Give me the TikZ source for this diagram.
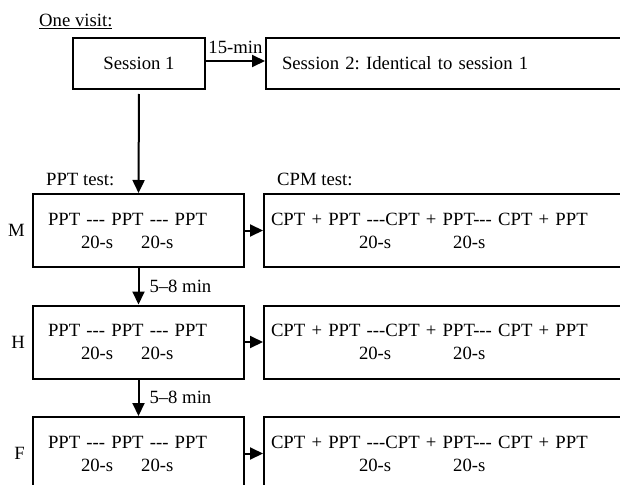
\documentclass[tikz,border=0pt]{standalone}
\usepackage{fontspec}
\setmainfont{Liberation Serif}[Ligatures=TeXOff]
\frenchspacing
\usetikzlibrary{arrows.meta}
\tikzset{
  every node/.style={font=\fontsize{18.7}{23}\selectfont},
  boxnode/.style={draw, line width=2pt, rectangle, anchor=north west, minimum height=73pt, align=left, inner ysep=0pt},
  lbox/.style={boxnode, text width=181pt, inner xsep=15pt},
  rbox/.style={boxnode, text width=380pt, inner xsep=7pt},
  conn/.style={line width=2pt, -{Triangle[length=13pt,width=12pt]}},
  rowlab/.style={anchor=east, inner sep=0pt},
  lbl/.style={inner sep=0pt}
}
\begin{document}
\begin{tikzpicture}[x=1pt,y=-1pt]
\useasboundingbox (0,0) rectangle (620,484);
\node[lbl, anchor=base west] (visit) at (39,27) {\underline{One visit:}};
\node[draw, line width=2pt, anchor=north west, minimum width=132pt, minimum height=51pt] (s1) at (72,37) {Session 1};
\node[draw, line width=2pt, anchor=north west, minimum height=51pt, text width=380pt, inner xsep=16pt, align=left] (s2) at (265,37) {Session 2: Identical to session 1};
\draw[conn] (s1.east |- 0,61) -- (s2.west |- 0,61) node[lbl, midway, anchor=base, yshift=7pt] (fifteen) {15-min};
\node[lbl, anchor=base west] (ppttest) at (46,185) {PPT test:};
\node[lbl, anchor=base west] (cpmtest) at (277,185) {CPM test:};
% rows
\foreach \nm/\lab/\top in {M/M/193, H/H/304.5, F/F/416}{
  \node[lbox, minimum width=211pt] (p\nm) at (32,\top) {PPT --- PPT --- PPT\\\hspace*{33pt}20-s\hspace{28pt}20-s};
  \node[rbox] (c\nm) at (263,\top) {CPT + PPT ---CPT + PPT--- CPT + PPT\\\hspace*{88pt}20-s\hspace{62pt}20-s};
  \node[rowlab, xshift=-7pt] (l\nm) at (p\nm.west) {\lab};
  \draw[conn] (p\nm.east) -- (c\nm.west);
}
\draw[conn, shorten <=4pt] (s1.south) -- (pM.north);
\draw[conn] (pM.south) -- (pH.north) node[lbl, midway, anchor=west, xshift=10pt] (g1) {5–8 min};
\draw[conn] (pH.south) -- (pF.north) node[lbl, midway, anchor=west, xshift=10pt] (g2) {5–8 min};
\end{tikzpicture}
\end{document}
